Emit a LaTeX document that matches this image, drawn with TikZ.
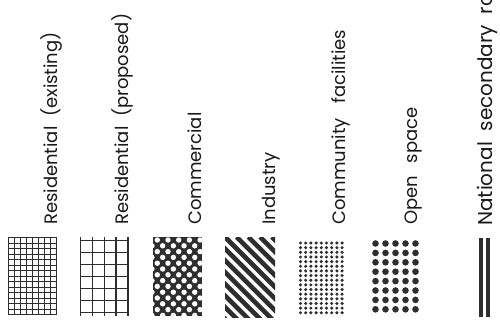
\documentclass[tikz,border=0pt]{standalone}
\usepackage{fontspec}
\setmainfont{Poppins}[WordSpace=2]
\usepackage{tikz}
\usetikzlibrary{positioning}
\definecolor{ink}{HTML}{2E2E2E}

\begin{document}
\begin{tikzpicture}[x=1pt, y=-1pt,
    legtext/.style={rotate=90, anchor=base west, inner sep=0pt, text=black!90,
                    font={\fontsize{18}{22}\selectfont}},
    rule/.style={draw=ink, line width=1.4pt},
    road/.style={draw=ink, line width=4pt}
]
\useasboundingbox[fill=white] (0,0) rectangle (500,327);

% residential (existing): fine grid
\foreach \i in {0,...,8}
  \draw[rule] ({8.7+\i*6},237) -- ({8.7+\i*6},314);
\foreach \j in {0,...,14}
  \draw[rule] (8,{237.7+\j*5.5}) -- (57,{237.7+\j*5.5});

% residential (proposed): coarse grid
\foreach \i in {0,...,4}
  \draw[rule] ({80.7+\i*11.8},237) -- ({80.7+\i*11.8},316);
\foreach \j in {0,...,6}
  \draw[rule] (80,{240.5+\j*12}) -- (128,{240.5+\j*12});

% commercial: white holes on dark
\begin{scope}
  \clip (153,237) rectangle (202,316);
  \fill[ink] (153,237) rectangle (202,316);
  \foreach \r in {0,...,14}
    \foreach \c in {-1,...,4}
      \fill[white] ({157.3+mod(\r,2)*5.35+\c*10.7},{240+\r*5.8}) circle (2.7);
\end{scope}

% industry: stripes
\begin{scope}
  \clip (225,237) rectangle (275,317);
  \foreach \s in {-8,...,5}
    \draw[ink, line width=4.6pt] ({225+\s*11.7},237) -- ({310+\s*11.7},322);
\end{scope}

% community facilities: small dots
\foreach \r in {0,...,15}
  \foreach \c in {0,...,8}
    \fill[ink] ({300.5+\c*5.2},{243+\r*4.65}) circle (1.7);

% open space: large dots
\foreach \r in {0,...,7}
  \foreach \c in {0,...,4}
    \fill[ink] ({375.5+\c*10},{243.5+\r*9.4}) circle (3.3);

% national secondary road
\draw[road] (480.5,238) -- (480.5,317);
\draw[road] (487.5,238) -- (487.5,317);

\begin{scope}
  \clip (0,0) rectangle (500,327);
  \node[legtext] (resex)  at (57,225)  {Residential (existing)};
  \node[legtext] (respro) at (128,225) {Residential (proposed)};
  \node[legtext] (comm)   at (201,225) {Commercial};
  \node[legtext] (ind)    at (275,225) {Industry};
  \node[legtext] (cfac)   at (345,225) {Community\hspace{5pt} facilities};
  \node[legtext] (open)   at (417,225) {Open\hspace{3pt} space};
  \node[legtext, font={\fontsize{20}{24}\selectfont}] (road) at (492,226)
    {National secondary road};
\end{scope}
\end{tikzpicture}
\end{document}
